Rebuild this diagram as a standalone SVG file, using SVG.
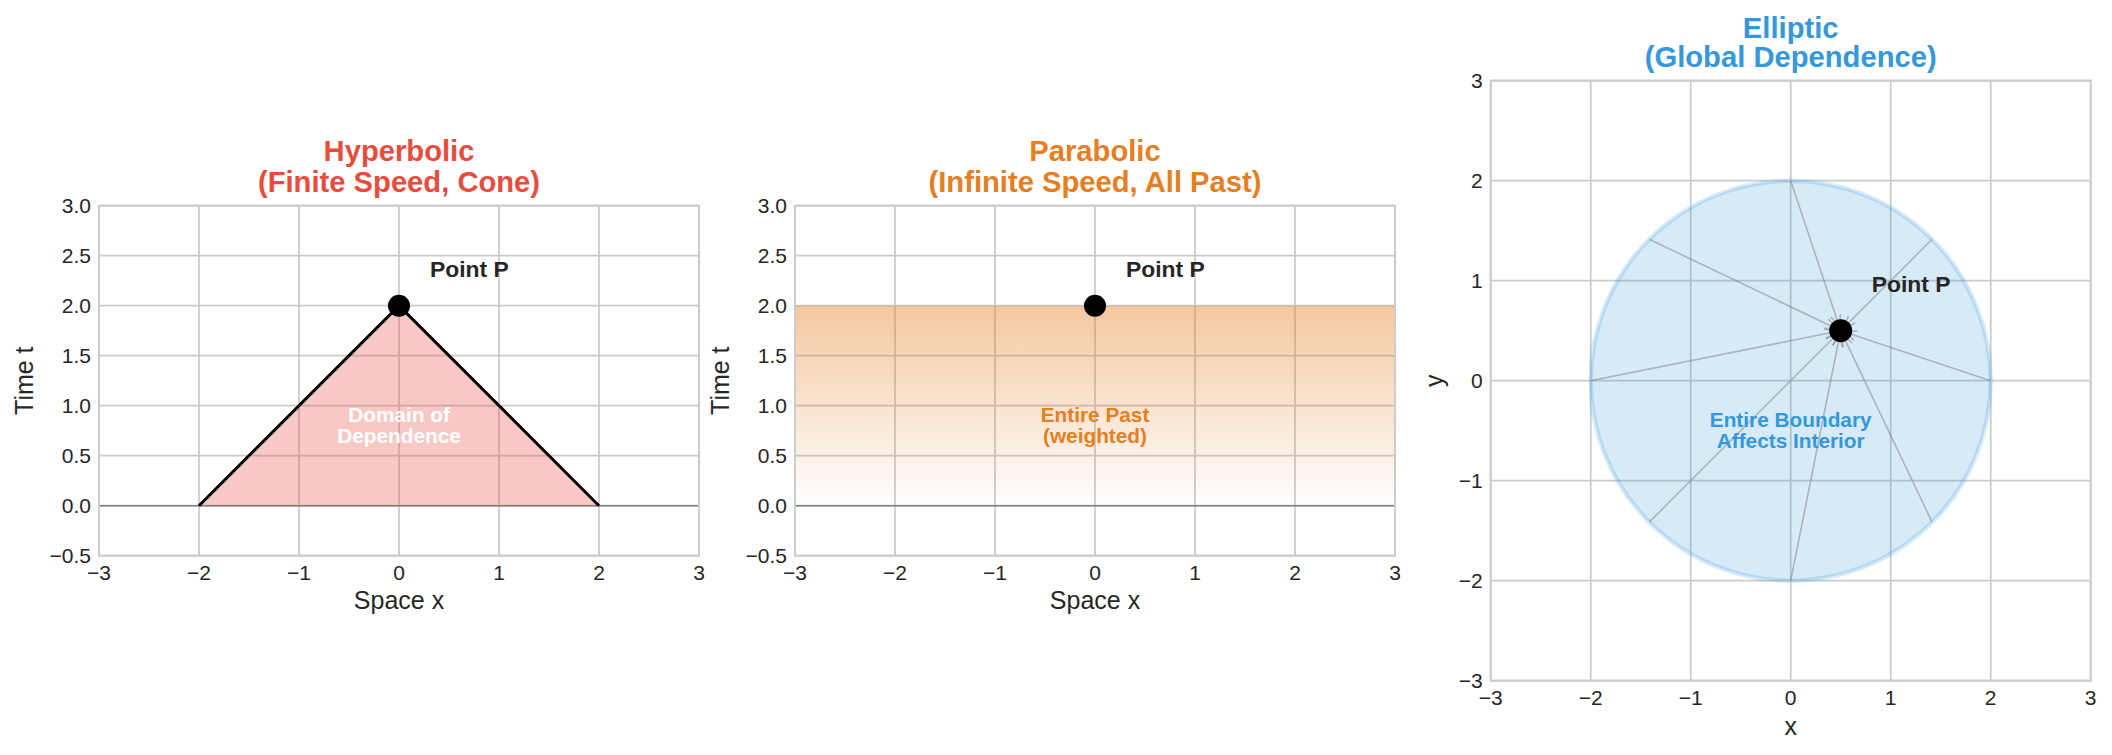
<svg xmlns="http://www.w3.org/2000/svg" width="2112" height="755" viewBox="0 0 2112 755">
<defs>
<style>
text{font-family:"Liberation Sans",Arial,Helvetica,sans-serif;}
.grid line{stroke:#cccccc;stroke-width:1.8;}
.spine{fill:none;stroke:#cccccc;stroke-width:2;}
.tick{font-size:21px;fill:#262626;}
.ty{text-anchor:end;}
.tx{text-anchor:middle;}
.alabel{font-size:25px;fill:#262626;text-anchor:middle;}
.title{font-size:29.2px;font-weight:bold;text-anchor:middle;}
.pp{font-size:22.9px;font-weight:bold;fill:#262626;}
.inner{font-size:20.8px;font-weight:bold;text-anchor:middle;}
.zero{stroke:#808080;stroke-width:1.6;}
.ray{stroke:#808080;stroke-opacity:0.5;stroke-width:1.6;fill:none;}
</style>
<linearGradient id="pastGrad" x1="0" y1="0" x2="0" y2="1">
<stop offset="0" stop-color="#e67e22" stop-opacity="0.43"/>
<stop offset="1" stop-color="#e67e22" stop-opacity="0.0"/>
</linearGradient>
<marker id="ah" markerUnits="userSpaceOnUse" viewBox="-14 -7 16 14" markerWidth="16" markerHeight="14" refX="0" refY="0" orient="auto">
<path d="M-12,-5 L0,0 L-12,5" fill="none" stroke="#808080" stroke-opacity="0.5" stroke-width="1.6"/>
</marker>
</defs>
<rect x="0" y="0" width="2112" height="755" fill="#ffffff"/>

<!-- Panel 1: Hyperbolic -->
<g id="panel-hyperbolic">
<g class="grid">
<line x1="99" y1="205.7" x2="99" y2="555.7"/><line x1="199" y1="205.7" x2="199" y2="555.7"/><line x1="299" y1="205.7" x2="299" y2="555.7"/><line x1="399" y1="205.7" x2="399" y2="555.7"/><line x1="499" y1="205.7" x2="499" y2="555.7"/><line x1="599" y1="205.7" x2="599" y2="555.7"/><line x1="699" y1="205.7" x2="699" y2="555.7"/>
<line x1="99" y1="205.7" x2="699" y2="205.7"/><line x1="99" y1="255.7" x2="699" y2="255.7"/><line x1="99" y1="305.7" x2="699" y2="305.7"/><line x1="99" y1="355.7" x2="699" y2="355.7"/><line x1="99" y1="405.7" x2="699" y2="405.7"/><line x1="99" y1="455.7" x2="699" y2="455.7"/><line x1="99" y1="505.7" x2="699" y2="505.7"/><line x1="99" y1="555.7" x2="699" y2="555.7"/>
</g>
<polygon points="199,505.7 399,305.7 599,505.7" fill="#e74c3c" fill-opacity="0.3" stroke="#e74c3c" stroke-opacity="0.3" stroke-width="1.5"/>
<line class="zero" x1="99" y1="505.7" x2="699" y2="505.7"/>
<polyline points="199,505.7 399,305.7 599,505.7" fill="none" stroke="#000000" stroke-width="3"/>
<circle cx="399" cy="305.7" r="11" fill="#000000"/>
<rect class="spine" x="99" y="205.7" width="600" height="350"/>
<text class="pp" x="430" y="276.7">Point P</text>
<text class="inner" fill="#ffffff" x="399" y="421.7">Domain of</text>
<text class="inner" fill="#ffffff" x="399" y="443.3">Dependence</text>
<g class="tick ty">
<text x="91" y="213.2">3.0</text><text x="91" y="263.2">2.5</text><text x="91" y="313.2">2.0</text><text x="91" y="363.2">1.5</text><text x="91" y="413.2">1.0</text><text x="91" y="463.2">0.5</text><text x="91" y="513.2">0.0</text><text x="91" y="563.2">−0.5</text>
</g>
<g class="tick tx">
<text x="99" y="580">−3</text><text x="199" y="580">−2</text><text x="299" y="580">−1</text><text x="399" y="580">0</text><text x="499" y="580">1</text><text x="599" y="580">2</text><text x="699" y="580">3</text>
</g>
<text class="alabel" x="399" y="609">Space x</text>
<text class="alabel" transform="translate(33,380.7) rotate(-90)">Time t</text>
<text class="title" fill="#e74c3c" x="399" y="161">Hyperbolic</text>
<text class="title" fill="#e74c3c" x="399" y="192">(Finite Speed, Cone)</text>
</g>

<!-- Panel 2: Parabolic -->
<g id="panel-parabolic">
<g class="grid">
<line x1="795" y1="205.7" x2="795" y2="555.7"/><line x1="895" y1="205.7" x2="895" y2="555.7"/><line x1="995" y1="205.7" x2="995" y2="555.7"/><line x1="1095" y1="205.7" x2="1095" y2="555.7"/><line x1="1195" y1="205.7" x2="1195" y2="555.7"/><line x1="1295" y1="205.7" x2="1295" y2="555.7"/><line x1="1395" y1="205.7" x2="1395" y2="555.7"/>
<line x1="795" y1="205.7" x2="1395" y2="205.7"/><line x1="795" y1="255.7" x2="1395" y2="255.7"/><line x1="795" y1="305.7" x2="1395" y2="305.7"/><line x1="795" y1="355.7" x2="1395" y2="355.7"/><line x1="795" y1="405.7" x2="1395" y2="405.7"/><line x1="795" y1="455.7" x2="1395" y2="455.7"/><line x1="795" y1="505.7" x2="1395" y2="505.7"/><line x1="795" y1="555.7" x2="1395" y2="555.7"/>
</g>
<rect x="795" y="305.7" width="600" height="200" fill="url(#pastGrad)"/>
<line class="zero" x1="795" y1="505.7" x2="1395" y2="505.7"/>
<circle cx="1095" cy="305.7" r="11" fill="#000000"/>
<rect class="spine" x="795" y="205.7" width="600" height="350"/>
<text class="pp" x="1126" y="276.7">Point P</text>
<text class="inner" fill="#e67e22" x="1095" y="421.7">Entire Past</text>
<text class="inner" fill="#e67e22" x="1095" y="443.3">(weighted)</text>
<g class="tick ty">
<text x="787" y="213.2">3.0</text><text x="787" y="263.2">2.5</text><text x="787" y="313.2">2.0</text><text x="787" y="363.2">1.5</text><text x="787" y="413.2">1.0</text><text x="787" y="463.2">0.5</text><text x="787" y="513.2">0.0</text><text x="787" y="563.2">−0.5</text>
</g>
<g class="tick tx">
<text x="795" y="580">−3</text><text x="895" y="580">−2</text><text x="995" y="580">−1</text><text x="1095" y="580">0</text><text x="1195" y="580">1</text><text x="1295" y="580">2</text><text x="1395" y="580">3</text>
</g>
<text class="alabel" x="1095" y="609">Space x</text>
<text class="alabel" transform="translate(729,380.7) rotate(-90)">Time t</text>
<text class="title" fill="#e67e22" x="1095" y="161">Parabolic</text>
<text class="title" fill="#e67e22" x="1095" y="192">(Infinite Speed, All Past)</text>
</g>

<!-- Panel 3: Elliptic -->
<g id="panel-elliptic">
<g class="grid">
<line x1="1490.7" y1="80.7" x2="1490.7" y2="680.7"/><line x1="1590.7" y1="80.7" x2="1590.7" y2="680.7"/><line x1="1690.7" y1="80.7" x2="1690.7" y2="680.7"/><line x1="1790.7" y1="80.7" x2="1790.7" y2="680.7"/><line x1="1890.7" y1="80.7" x2="1890.7" y2="680.7"/><line x1="1990.7" y1="80.7" x2="1990.7" y2="680.7"/><line x1="2090.7" y1="80.7" x2="2090.7" y2="680.7"/>
<line x1="1490.7" y1="80.7" x2="2090.7" y2="80.7"/><line x1="1490.7" y1="180.7" x2="2090.7" y2="180.7"/><line x1="1490.7" y1="280.7" x2="2090.7" y2="280.7"/><line x1="1490.7" y1="380.7" x2="2090.7" y2="380.7"/><line x1="1490.7" y1="480.7" x2="2090.7" y2="480.7"/><line x1="1490.7" y1="580.7" x2="2090.7" y2="580.7"/><line x1="1490.7" y1="680.7" x2="2090.7" y2="680.7"/>
</g>
<circle cx="1790.7" cy="380.7" r="200" fill="#3498db" fill-opacity="0.2" stroke="#3498db" stroke-opacity="0.2" stroke-width="4.5"/>
<g id="rays">
<line class="ray" marker-end="url(#ah)" x1="1790.7" y1="180.7" x2="1839.44" y2="326.91"/>
<line class="ray" marker-end="url(#ah)" x1="1932.1" y1="239.3" x2="1843.53" y2="327.87"/>
<line class="ray" marker-end="url(#ah)" x1="1990.7" y1="380.7" x2="1844.49" y2="331.96"/>
<line class="ray" marker-end="url(#ah)" x1="1932.1" y1="522.1" x2="1842.42" y2="334.31"/>
<line class="ray" marker-end="url(#ah)" x1="1790.7" y1="580.7" x2="1839.92" y2="334.62"/>
<line class="ray" marker-end="url(#ah)" x1="1649.3" y1="522.1" x2="1837.87" y2="333.53"/>
<line class="ray" marker-end="url(#ah)" x1="1590.7" y1="380.7" x2="1836.78" y2="331.48"/>
<line class="ray" marker-end="url(#ah)" x1="1649.3" y1="239.3" x2="1837.09" y2="328.98"/>
</g>
<circle cx="1840.7" cy="330.7" r="11.5" fill="#000000"/>
<rect class="spine" x="1490.7" y="80.7" width="600" height="600"/>
<text class="pp" x="1871.7" y="291.7">Point P</text>
<text class="inner" fill="#3498db" x="1790.7" y="426.7">Entire Boundary</text>
<text class="inner" fill="#3498db" x="1790.7" y="448.3">Affects Interior</text>
<g class="tick ty">
<text x="1482.7" y="88.2">3</text><text x="1482.7" y="188.2">2</text><text x="1482.7" y="288.2">1</text><text x="1482.7" y="388.2">0</text><text x="1482.7" y="488.2">−1</text><text x="1482.7" y="588.2">−2</text><text x="1482.7" y="688.2">−3</text>
</g>
<g class="tick tx">
<text x="1490.7" y="705">−3</text><text x="1590.7" y="705">−2</text><text x="1690.7" y="705">−1</text><text x="1790.7" y="705">0</text><text x="1890.7" y="705">1</text><text x="1990.7" y="705">2</text><text x="2090.7" y="705">3</text>
</g>
<text class="alabel" x="1790.7" y="735">x</text>
<text class="alabel" transform="translate(1442.7,380.7) rotate(-90)">y</text>
<text class="title" fill="#3498db" x="1790.7" y="37.5">Elliptic</text>
<text class="title" fill="#3498db" x="1790.7" y="66.5">(Global Dependence)</text>
</g>
</svg>
